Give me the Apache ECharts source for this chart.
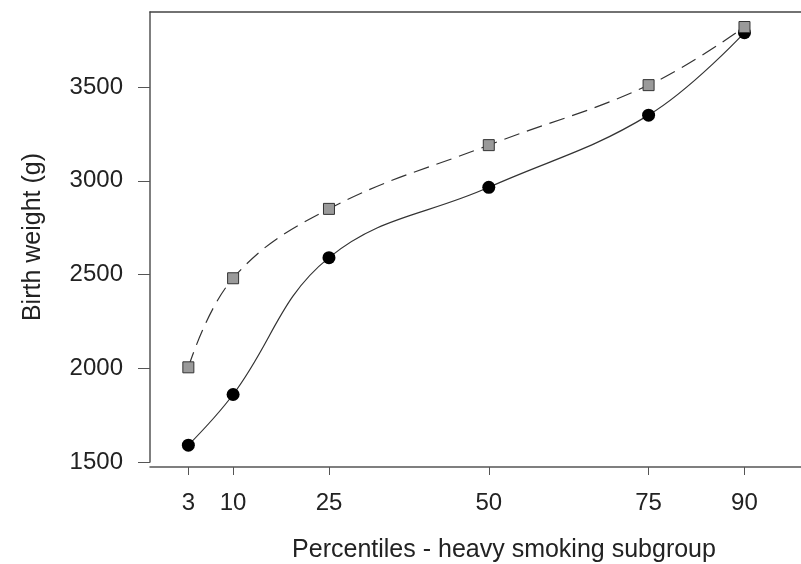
<!DOCTYPE html>
<html>
<head>
<meta charset="utf-8">
<script src="https://cdn.jsdelivr.net/npm/echarts@6/dist/echarts.min.js"></script>
<style>
  html, body { margin: 0; padding: 0; background: #fff; }
  #main { width: 801px; height: 564px; }
</style>
</head>
<body>
<div id="main"></div>
<script>
// percentiles on the x axis
var percentiles = [3, 10, 25, 50, 75, 90];
// solid line, filled circles
var weightCircle = [1590, 1860, 2590, 2965, 3350, 3790];
// dashed line, grey squares
var weightSquare = [2005, 2480, 2850, 3190, 3510, 3820];
var yTicks = [1500, 2000, 2500, 3000, 3500];

var pairs = function (xs, ys) {
    return xs.map(function (x, i) { return [x, ys[i]]; });
};

var txt = { color: '#222', fontFamily: 'Liberation Sans, Arial, sans-serif', fontSize: 24 };
var nameTxt = { color: '#222', fontFamily: 'Liberation Sans, Arial, sans-serif', fontSize: 25 };
var axisCol = '#555';
var plain = function (v) { return String(v); };

var chart = echarts.init(document.getElementById('main'), null, { renderer: 'canvas' });
chart.setOption({
    animation: false,
    backgroundColor: '#fff',
    grid: { left: 150, top: 12, width: 652, height: 450, outerBoundsMode: 'none' },
    xAxis: [{
        type: 'value',
        min: -3,
        max: 99,
        offset: 5,
        splitLine: { show: false },
        axisLine: { onZero: false, lineStyle: { color: axisCol, width: 1.5 } },
        axisTick: { customValues: percentiles, length: 8, lineStyle: { color: axisCol } },
        axisLabel: Object.assign({ customValues: percentiles, margin: 24, formatter: plain }, txt),
        name: 'Percentiles - heavy smoking subgroup',
        nameLocation: 'middle',
        nameGap: 71,
        nameTextStyle: Object.assign({ padding: [0, 0, 0, 56] }, nameTxt)
    }, {
        type: 'value',
        position: 'top',
        min: -3,
        max: 99,
        splitLine: { show: false },
        axisLine: { onZero: false, lineStyle: { color: '#444', width: 1.5 } },
        axisTick: { show: false },
        axisLabel: { show: false }
    }],
    yAxis: {
        type: 'value',
        min: 1500,
        max: 3900,
        splitLine: { show: false },
        axisLine: { show: true, onZero: false, lineStyle: { color: axisCol, width: 1.5 } },
        axisTick: { customValues: yTicks, length: 12, lineStyle: { color: axisCol } },
        axisLabel: Object.assign({ customValues: yTicks, margin: 27, formatter: plain }, txt),
        name: 'Birth weight (g)',
        nameLocation: 'middle',
        nameGap: 104,
        nameTextStyle: nameTxt
    },
    series: [{
        type: 'line',
        data: pairs(percentiles, weightCircle),
        smooth: 0.4,
        symbol: 'circle',
        symbolSize: 13,
        itemStyle: { color: '#000' },
        lineStyle: { color: '#333', width: 1.2 }
    }, {
        type: 'line',
        data: pairs(percentiles, weightSquare),
        smooth: 0.4,
        symbol: 'rect',
        symbolSize: 11,
        itemStyle: { color: '#9a9a9a', borderColor: '#333', borderWidth: 1 },
        lineStyle: { color: '#333', width: 1.2, type: [16, 8] }
    }]
});
</script>
</body>
</html>
